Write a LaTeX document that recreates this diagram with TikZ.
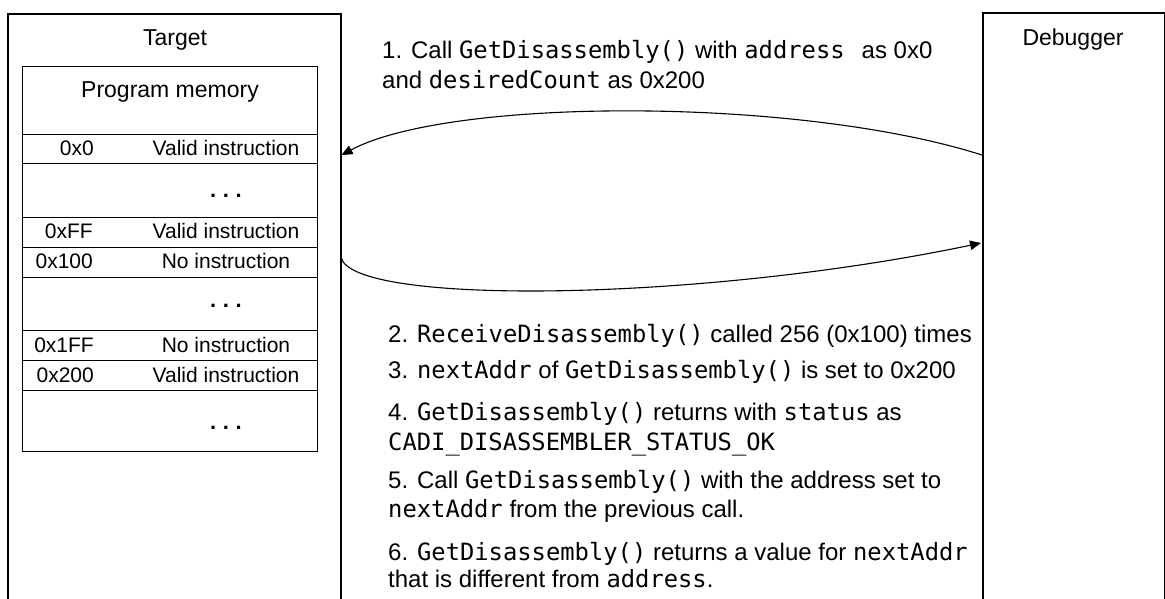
\documentclass[tikz,border=0pt]{standalone}
\usepackage{fontspec}
\setmainfont{Liberation Sans}
\newfontfamily\monof{DejaVu Sans Mono}
\usetikzlibrary{arrows.meta}
\newcommand\cd[2][23.8]{{\monof\fontsize{#1}{28}\selectfont #2}}
\newcommand\us{\symbol{95}}
\newcommand\mydots{.\hspace{0.3em}.\hspace{0.3em}.}
\tikzset{
  outerbox/.style={draw, line width=2pt, anchor=north west, inner sep=0pt},
  cell/.style={draw, line width=1.3pt, anchor=north west, minimum width=295pt, inner sep=0pt},
  lbl/.style={anchor=base, inner sep=0pt, font=\fontsize{21}{25}\selectfont},
  dotlbl/.style={anchor=base, inner sep=0pt, font=\fontsize{22}{25}\selectfont\bfseries},
  big/.style={anchor=base, inner sep=0pt, font=\fontsize{23}{27}\selectfont},
  addr/.style={anchor=base east, inner sep=0pt, font=\fontsize{21}{25}\selectfont},
  txt/.style={anchor=base west, inner sep=0pt, font=\fontsize{24}{28}\selectfont},
  arr/.style={line width=1.1pt, -{Triangle[length=11pt,width=9.5pt]}},
}
\begin{document}
\begin{tikzpicture}[x=1pt,y=-1pt]
\useasboundingbox (0,0) rectangle (1165,598);
\clip (0,0) rectangle (1165,598);
\fill[white] (0,0) rectangle (1165,598);
% outer boxes
\node[outerbox, minimum width=333pt, minimum height=620pt] (target) at (7,13) {};
\node[outerbox, minimum width=182pt, minimum height=620pt] (debugger) at (982,12) {};
\node[big] (targetlbl) at (175,45) {Target};
\node[big] (debuggerlbl) at (1073,45) {Debugger};
% memory table
\node[cell, minimum height=68pt] (hdr) at (22,66) {};
\node[cell, minimum height=29pt] (r0) at (22,134) {};
\node[cell, minimum height=54pt] (d1) at (22,163) {};
\node[cell, minimum height=30pt] (rff) at (22,217) {};
\node[cell, minimum height=30pt] (r100) at (22,247) {};
\node[cell, minimum height=53pt] (d2) at (22,277) {};
\node[cell, minimum height=30pt] (r1ff) at (22,330) {};
\node[cell, minimum height=30pt] (r200) at (22,360) {};
\node[cell, minimum height=61pt] (d3) at (22,390) {};
\node[big] (pm) at (170,97) {Program memory};
\node[addr] (a0) at (94,155) {0x0};
\node[lbl] (v0) at (226,155) {Valid instruction};
\node[dotlbl] (dt1) at (226,197) {\mydots};
\node[addr] (aff) at (93,238) {0xFF};
\node[lbl] (vff) at (226,238) {Valid instruction};
\node[addr] (a100) at (93,268) {0x100};
\node[lbl] (v100) at (226,268) {No instruction};
\node[dotlbl] (dt2) at (226,307) {\mydots};
\node[addr] (a1ff) at (94,352) {0x1FF};
\node[lbl] (v1ff) at (226,352) {No instruction};
\node[addr] (a200) at (94,382) {0x200};
\node[lbl] (v200) at (226,382) {Valid instruction};
\node[dotlbl] (dt3) at (226,429) {\mydots};
% arrows
\coordinate (dtop) at (982,155);
\coordinate (ttop) at (341.5,155);
\coordinate (tbot) at (341,257);
\coordinate (dbot) at (981,243);
\draw[arr] (dtop) .. controls (800,97) and (450,97) .. (ttop);
\draw[arr] (tbot) .. controls (350,306) and (700,302) .. (dbot);
% texts
\node[txt] (s1a) at (382,58) {1. Call \cd{GetDisassembly()} with \cd{address}\hspace{17pt}as 0x0};
\node[txt] (s1b) at (382,88) {and \cd{desiredCount} as 0x200};
\node[txt] (s2) at (388,342) {2. \cd{ReceiveDisassembly()} called 256 (0x100) times};
\node[txt] (s3) at (388,378) {3. \cd{nextAddr} of \cd{GetDisassembly()} is set to 0x200};
\node[txt] (s4a) at (388,420) {4. \cd{GetDisassembly()} returns with \cd{status} as};
\node[txt] (s4b) at (388,450) {\cd{CADI\us DISASSEMBLER\us STATUS\us OK}};
\node[txt] (s5a) at (388,488) {5. Call \cd{GetDisassembly()} with the address set to};
\node[txt] (s5b) at (388,517) {\cd{nextAddr} from the previous call.};
\node[txt] (s6a) at (388,560) {6. \cd{GetDisassembly()} returns a value for \cd{nextAddr}};
\node[txt] (s6b) at (388,587) {that is different from \cd{address}.};
\end{tikzpicture}
\end{document}
